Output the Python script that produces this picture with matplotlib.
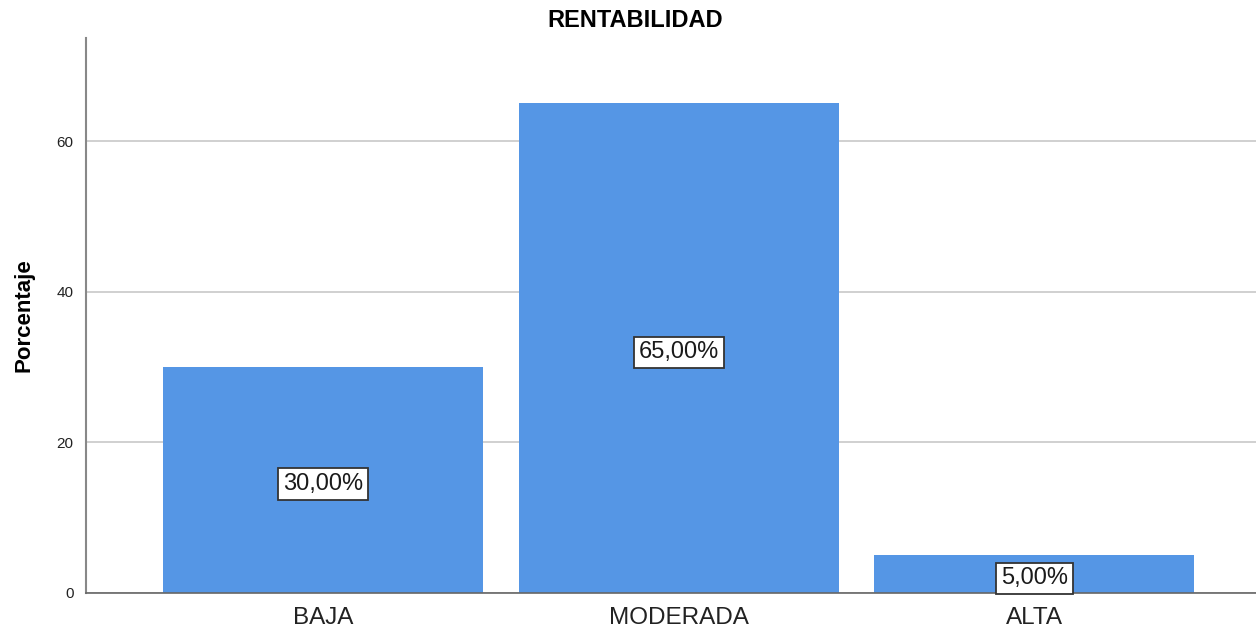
import numpy as np
import matplotlib
matplotlib.use('Agg')
import matplotlib.pyplot as plt

plt.rcParams['font.family'] = ['Liberation Sans', 'DejaVu Sans']

categorias = ['BAJA', 'MODERADA', 'ALTA']
porcentajes = [30.0, 65.0, 5.0]
etiquetas = ['30,00%', '65,00%', '5,00%']

fig = plt.figure(figsize=(12.56, 6.33), dpi=100)
ax = fig.add_axes([0.0685, 0.0632, 0.9315, 0.8768])

x = np.arange(len(categorias))
ax.bar(x, porcentajes, width=0.9, color='#5596E5', edgecolor='none', zorder=2)

# etiquetas en el centro de cada barra
for xi, v, t in zip(x, porcentajes, etiquetas):
    ax.annotate(t, (xi, v / 2), xytext=(0, -3), textcoords='offset points',
                ha='center', va='center', fontsize=17, color='#1a1a1a', zorder=3,
                bbox=dict(boxstyle='square,pad=0.2', facecolor='white', edgecolor='#333333', linewidth=1.3))

ax.set_xlim(-0.667, 2.623)
ax.set_ylim(0, 73.7)
ax.set_yticks([0, 20, 40, 60])
ax.set_xticks(x)
ax.set_xticklabels(categorias, fontsize=17.5, color='#222222')
ax.tick_params(axis='y', labelsize=11, length=0, pad=9, colors='#222222')
ax.tick_params(axis='x', length=0, pad=10)
ax.yaxis.grid(True, color='#c8c8c8', linewidth=1.2, zorder=0)
ax.set_axisbelow(True)

for s in ['top', 'right']:
    ax.spines[s].set_visible(False)
ax.spines['left'].set_color('#888888')
ax.spines['left'].set_linewidth(1.5)
ax.spines['bottom'].set_color('#666666')
ax.spines['bottom'].set_linewidth(1.2)

ax.set_ylabel('Porcentaje', fontsize=16, fontweight='bold', labelpad=16)
fig.text(0.506, 0.968, 'RENTABILIDAD', ha='center', va='center', fontsize=17, fontweight='bold')

fig.savefig('out.png', dpi=100)
